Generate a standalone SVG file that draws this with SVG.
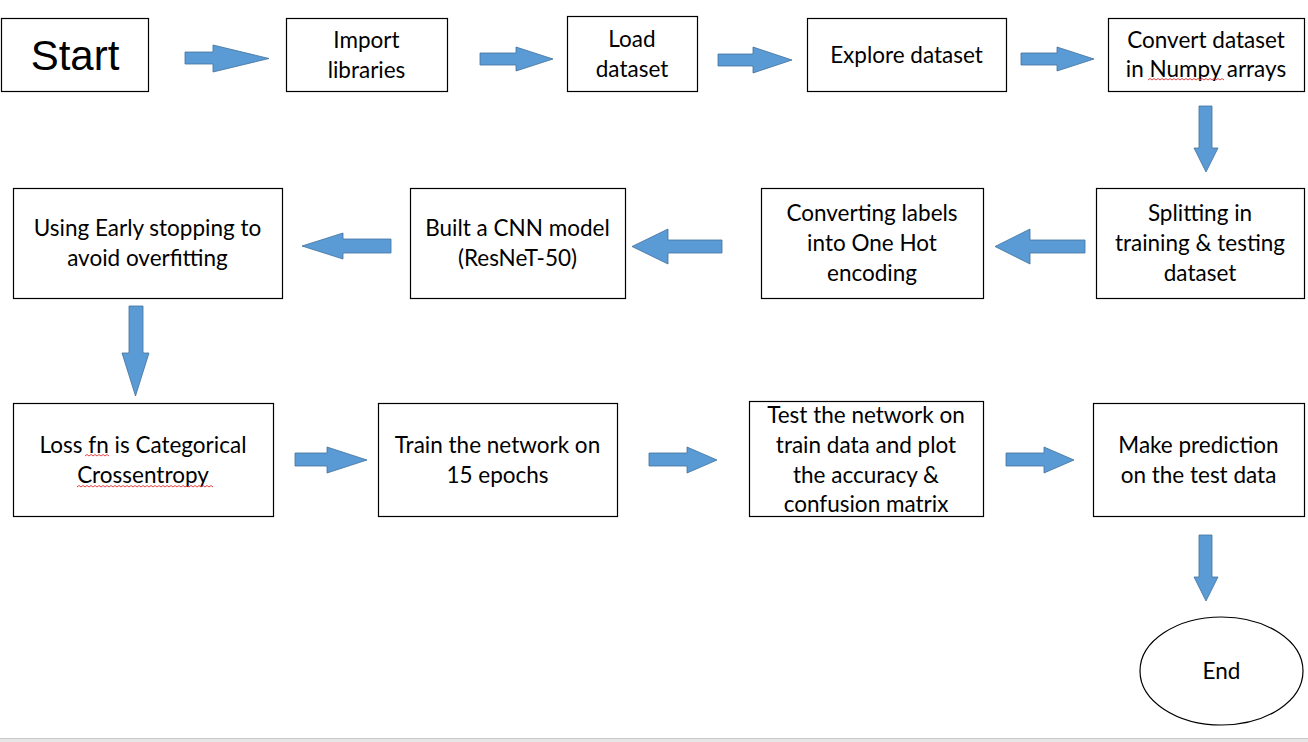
<svg xmlns="http://www.w3.org/2000/svg" width="1308" height="742" viewBox="0 0 1308 742">
<style>
.box{fill:#fff;stroke:#000;stroke-width:1.2}
.t{font-family:Lato,"Open Sans","Liberation Sans",sans-serif;font-size:22.5px;fill:#000;text-anchor:middle}
.big{font-family:"Liberation Sans",Arial,sans-serif;font-size:42px;fill:#000;text-anchor:middle}
.arr{fill:#5B9BD5;stroke:#41719C;stroke-width:0.8}
.sq{fill:none;stroke:#e03030;stroke-width:0.9}
</style>
<rect x="0" y="0" width="1308" height="742" fill="#fff"/>
<g id="connectors">
<polygon class="arr" points="185,52 213,52 213,45 269,58.5 213,72 213,64 185,64"/>
<polygon class="arr" points="480,53 516,53 516,47 553,59 516,71 516,65 480,65"/>
<polygon class="arr" points="718,54 753,54 753,47 792,60 753,73 753,66 718,66"/>
<polygon class="arr" points="1021,53 1057,53 1057,47 1094,59 1057,71 1057,65 1021,65"/>
<polygon class="arr" points="1199,106 1212,106 1212,148 1218,148 1206,172 1194,148 1199,148"/>
<polygon class="arr" points="1085,240 1030,240 1030,229 995,246.5 1030,264 1030,253 1085,253"/>
<polygon class="arr" points="722,240 668,240 668,229 632,246.5 668,264 668,253 722,253"/>
<polygon class="arr" points="391,239 343,239 343,233 302,246 343,259 343,253 391,253"/>
<polygon class="arr" points="129,306 143,306 143,353 149,353 135.5,396 122,353 129,353"/>
<polygon class="arr" points="295,453 327,453 327,447 367,460 327,473 327,466 295,466"/>
<polygon class="arr" points="649,453 687,453 687,447 717,460 687,473 687,466 649,466"/>
<polygon class="arr" points="1006,453 1044,453 1044,447 1074,460 1044,473 1044,466 1006,466"/>
<polygon class="arr" points="1199,535 1212,535 1212,577 1218,577 1206,601 1194,577 1199,577"/>
</g>
<g id="start">
<rect class="box" x="1.5" y="18.5" width="147" height="73"/>
<text class="big" x="75" y="70">Start</text>
</g>
<g id="import">
<rect class="box" x="286.5" y="18.5" width="161" height="73"/>
<text class="t" x="366.5" y="48">Import</text>
<text class="t" x="366.5" y="78">libraries</text>
</g>
<g id="load">
<rect class="box" x="567.5" y="16.5" width="130" height="75"/>
<text class="t" x="632" y="47">Load</text>
<text class="t" x="632" y="77">dataset</text>
</g>
<g id="explore">
<rect class="box" x="807.5" y="18.5" width="199" height="73"/>
<text class="t" x="906.5" y="63">Explore dataset</text>
</g>
<g id="convert">
<rect class="box" x="1108.5" y="18.5" width="196" height="73"/>
<text class="t" x="1206" y="48">Convert dataset</text>
<text class="t" x="1206" y="77">in Numpy arrays</text>
<path class="sq" d="M1148,80 l2,-1.5 l2,1.5 l2,-1.5 l2,1.5 l2,-1.5 l2,1.5 l2,-1.5 l2,1.5 l2,-1.5 l2,1.5 l2,-1.5 l2,1.5 l2,-1.5 l2,1.5 l2,-1.5 l2,1.5 l2,-1.5 l2,1.5 l2,-1.5 l2,1.5 l2,-1.5 l2,1.5 l2,-1.5 l2,1.5 l2,-1.5 l2,1.5 l2,-1.5 l2,1.5 l2,-1.5 l2,1.5 l2,-1.5 l2,1.5 l2,-1.5 l2,1.5 l2,-1.5 l2,1.5 l2,-1.5 l2,1.5"/>
</g>
<g id="splitting">
<rect class="box" x="1096.5" y="188.5" width="208" height="110"/>
<text class="t" x="1200" y="221">Splitting in</text>
<text class="t" x="1200" y="251">training &amp; testing</text>
<text class="t" x="1200" y="281">dataset</text>
</g>
<g id="onehot">
<rect class="box" x="761.5" y="188.5" width="222" height="110"/>
<text class="t" x="872" y="221">Converting labels</text>
<text class="t" x="872" y="251">into One Hot</text>
<text class="t" x="872" y="281">encoding</text>
</g>
<g id="cnn">
<rect class="box" x="410.5" y="188.5" width="215" height="110"/>
<text class="t" x="517.5" y="236">Built a CNN model</text>
<text class="t" x="517.5" y="266">(ResNeT-50)</text>
</g>
<g id="early">
<rect class="box" x="13.5" y="188.5" width="269" height="110"/>
<text class="t" x="147.5" y="236">Using Early stopping to</text>
<text class="t" x="147.5" y="266">avoid overfitting</text>
</g>
<g id="loss">
<rect class="box" x="13.5" y="403.5" width="260" height="113"/>
<text class="t" x="143" y="453">Loss fn is Categorical</text>
<text class="t" x="143" y="483">Crossentropy</text>
<path class="sq" d="M85,456 l2,-1.5 l2,1.5 l2,-1.5 l2,1.5 l2,-1.5 l2,1.5 l2,-1.5 l2,1.5 l2,-1.5 l2,1.5 l2,-1.5 l2,1.5"/>
<path class="sq" d="M77,487 l2,-1.5 l2,1.5 l2,-1.5 l2,1.5 l2,-1.5 l2,1.5 l2,-1.5 l2,1.5 l2,-1.5 l2,1.5 l2,-1.5 l2,1.5 l2,-1.5 l2,1.5 l2,-1.5 l2,1.5 l2,-1.5 l2,1.5 l2,-1.5 l2,1.5 l2,-1.5 l2,1.5 l2,-1.5 l2,1.5 l2,-1.5 l2,1.5 l2,-1.5 l2,1.5 l2,-1.5 l2,1.5 l2,-1.5 l2,1.5 l2,-1.5 l2,1.5 l2,-1.5 l2,1.5 l2,-1.5 l2,1.5 l2,-1.5 l2,1.5 l2,-1.5 l2,1.5 l2,-1.5 l2,1.5 l2,-1.5 l2,1.5 l2,-1.5 l2,1.5 l2,-1.5 l2,1.5 l2,-1.5 l2,1.5 l2,-1.5 l2,1.5 l2,-1.5 l2,1.5 l2,-1.5 l2,1.5 l2,-1.5 l2,1.5 l2,-1.5 l2,1.5 l2,-1.5 l2,1.5 l2,-1.5 l2,1.5 l2,-1.5 l2,1.5"/>
</g>
<g id="train">
<rect class="box" x="378.5" y="403.5" width="239" height="113"/>
<text class="t" x="497.5" y="453">Train the network on</text>
<text class="t" x="497.5" y="483">15 epochs</text>
</g>
<g id="test">
<rect class="box" x="749.5" y="401.5" width="234" height="115"/>
<text class="t" x="866" y="423">Test the network on</text>
<text class="t" x="866" y="453">train data and plot</text>
<text class="t" x="866" y="483">the accuracy &amp;</text>
<text class="t" x="866" y="512">confusion matrix</text>
</g>
<g id="predict">
<rect class="box" x="1093.5" y="403.5" width="211" height="113"/>
<text class="t" x="1198.5" y="453">Make prediction</text>
<text class="t" x="1198.5" y="483">on the test data</text>
</g>
<g id="end">
<ellipse class="box" cx="1221.5" cy="671" rx="81.5" ry="54"/>
<text class="t" x="1221.5" y="679">End</text>
</g>
<rect x="0" y="738" width="1308" height="4" fill="#e6e6e6"/>
<line x1="0" y1="738.5" x2="1308" y2="738.5" stroke="#c8c8c8" stroke-width="1"/>
</svg>
